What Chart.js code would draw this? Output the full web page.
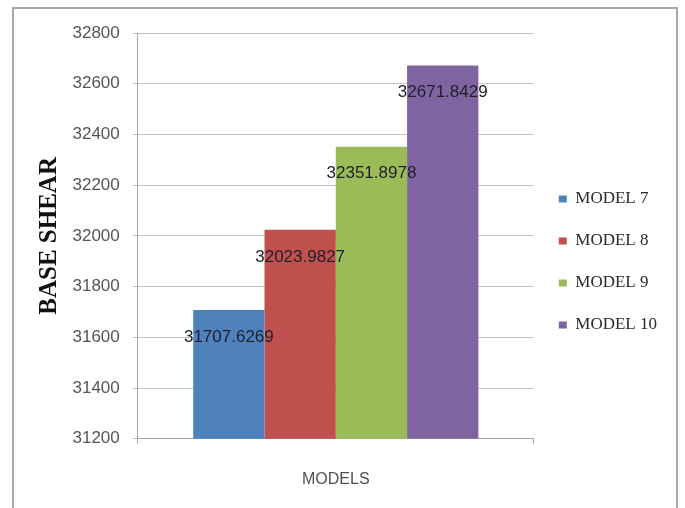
<!DOCTYPE html>
<html lang="en">
<head>
    <meta charset="UTF-8">
    <title>Base Shear by Model</title>
    <script src="https://cdn.jsdelivr.net/npm/chart.js"></script>
    <style>
        body { margin: 0; background: #fff; }
        .wrap { position: relative; width: 685px; height: 508px; overflow: hidden; }
        .frame { position: absolute; left: 12px; top: 7px; width: 662px; height: 520px;
                 border: 2px solid #a8a8a8; border-bottom: none; pointer-events: none; }
        canvas { position: absolute; left: 0; top: 0; }
    </style>
</head>
<body>
    <div class="wrap">
        <canvas id="chart" width="685" height="508"></canvas>
        <div class="frame"></div>
    </div>

    <script>
        // Data
        const categories = ['Base shear'];
        const seriesNames = ['MODEL 7', 'MODEL 8', 'MODEL 9', 'MODEL 10'];
        const baseShear = [31707.6269, 32023.9827, 32351.8978, 32671.8429];
        const colors = ['#4F81BD', '#C0504D', '#9BBB59', '#8064A2'];
        const yMin = 31200, yMax = 32800, yStep = 200;

        // Value labels drawn inside each bar, just under its top
        const barLabels = {
            id: 'barLabels',
            afterDatasetsDraw(chart) {
                const ctx = chart.ctx;
                ctx.save();
                ctx.font = '17px "Liberation Sans", Arial, sans-serif';
                ctx.fillStyle = '#1f1f2a';
                ctx.textAlign = 'center';
                ctx.textBaseline = 'middle';
                chart.data.datasets.forEach((ds, i) => {
                    const bar = chart.getDatasetMeta(i).data[0];
                    ctx.fillText(ds.data[0].toFixed(4), bar.x, bar.y + 27);
                });
                ctx.restore();
            }
        };

        new Chart(document.getElementById('chart'), {
            type: 'bar',
            data: {
                labels: categories,
                datasets: seriesNames.map((name, i) => ({
                    label: name,
                    data: [baseShear[i]],
                    backgroundColor: colors[i],
                    borderWidth: 0,
                    categoryPercentage: 0.72,
                    barPercentage: 1
                }))
            },
            options: {
                responsive: false,
                animation: false,
                layout: { padding: { left: 20, right: 18, top: 33, bottom: 17 } },
                plugins: {
                    tooltip: { enabled: false },
                    legend: {
                        position: 'right',
                        labels: {
                            boxWidth: 8,
                            boxHeight: 7,
                            padding: 25,
                            color: '#2a2a2a',
                            font: { family: '"Liberation Serif", "Times New Roman", serif', size: 17 }
                        }
                    }
                },
                scales: {
                    x: {
                        grid: { drawOnChartArea: false, tickLength: 5, color: '#a8a8a8' },
                        border: { color: '#a8a8a8' },
                        ticks: { display: false },
                        title: {
                            display: true,
                            text: 'MODELS',
                            color: '#505050',
                            padding: { top: 26, bottom: 2 },
                            font: { family: '"Liberation Sans", Arial, sans-serif', size: 16 }
                        }
                    },
                    y: {
                        min: yMin,
                        max: yMax,
                        grid: { color: '#c4c4c4', tickLength: 5 },
                        border: { color: '#a8a8a8' },
                        ticks: {
                            stepSize: yStep,
                            padding: 13,
                            color: '#555',
                            font: { family: '"Liberation Sans", Arial, sans-serif', size: 17 },
                            callback: (v) => String(v)
                        },
                        title: {
                            display: true,
                            text: 'BASE SHEAR',
                            color: '#111',
                            padding: { top: 14.5, bottom: -5 },
                            font: { family: '"Liberation Serif", "Times New Roman", serif', size: 25, weight: 'bold' }
                        }
                    }
                }
            },
            plugins: [barLabels]
        });
    </script>
</body>
</html>
